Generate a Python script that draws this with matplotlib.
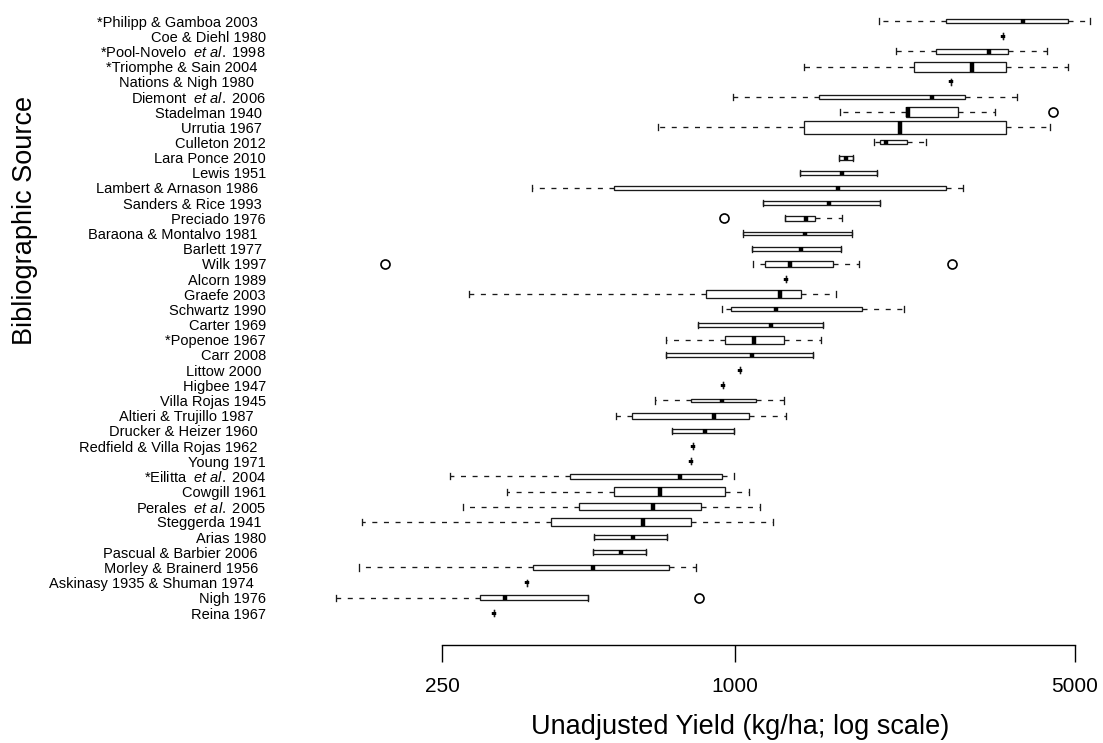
import numpy as np
import matplotlib
matplotlib.use("Agg")
import matplotlib.pyplot as plt

plt.rcParams['font.family'] = ['Liberation Sans', 'DejaVu Sans']
plt.rcParams['mathtext.fontset'] = 'custom'
plt.rcParams['mathtext.rm'] = 'Liberation Sans'
plt.rcParams['mathtext.it'] = 'Liberation Sans:italic'

# top to bottom
sources = [
    "*Philipp & Gamboa 2003  ", "Coe & Diehl 1980", r"*Pool-Novelo  $\mathit{et\ al.}$ 1998",
    "*Triomphe & Sain 2004  ", "Nations & Nigh 1980   ", r"Diemont  $\mathit{et\ al.}$ 2006",
    "Stadelman 1940 ", "Urrutia 1967 ", "Culleton 2012", "Lara Ponce 2010", "Lewis 1951",
    "Lambert & Arnason 1986  ", "Sanders & Rice 1993 ", "Preciado 1976",
    "Baraona & Montalvo 1981  ", "Barlett 1977 ", "Wilk 1997", "Alcorn 1989", "Graefe 2003",
    "Schwartz 1990", "Carter 1969", "*Popenoe 1967", "Carr 2008", "Littow 2000 ",
    "Higbee 1947", "Villa Rojas 1945", "Altieri & Trujillo 1987   ", "Drucker & Heizer 1960  ",
    "Redfield & Villa Rojas 1962  ", "Young 1971", r"*Eilitta  $\mathit{et\ al.}$ 2004",
    "Cowgill 1961", r"Perales  $\mathit{et\ al.}$ 2005", "Steggerda 1941 ", "Arias 1980",
    "Pascual & Barbier 2006  ", "Morley & Brainerd 1956  ", "Askinasy 1935 & Shuman 1974   ",
    "Nigh 1976", "Reina 1967",
]
whislo = [1980, 3555, 2145, 1385, 2775, 990, 1645, 695, 1935, 1635, 1360, 383, 1140, 1265,
          1040, 1085, 1090, 1270, 284, 940, 840, 720, 723, 1025, 945, 686, 569, 743, 820,
          811, 260, 340, 276, 171, 512, 511, 169, 374, 151, 320]
q1 = [2715, 3555, 2595, 2330, 2775, 1485, 2250, 1385, 1990, 1635, 1360, 565, 1140, 1265,
      1040, 1085, 1150, 1270, 870, 980, 840, 955, 723, 1025, 945, 813, 614, 743, 820,
      811, 457, 563, 479, 418, 512, 511, 384, 374, 299, 320]
med = [3910, 3555, 3330, 3065, 2775, 2540, 2265, 2185, 2045, 1690, 1660, 1630, 1560, 1400,
       1390, 1365, 1295, 1270, 1240, 1215, 1185, 1095, 1085, 1025, 945, 940, 906, 868, 820,
       811, 770, 702, 679, 648, 618, 584, 511, 374, 337, 320]
q3 = [4840, 3555, 3640, 3605, 2775, 2970, 2880, 3605, 2260, 1750, 1960, 2720, 1990, 1460,
      1740, 1650, 1590, 1270, 1365, 1820, 1520, 1260, 1445, 1025, 945, 1103, 1067, 997, 820,
      811, 940, 955, 851, 811, 724, 656, 733, 374, 499, 320]
whishi = [5370, 3555, 4380, 4840, 2775, 3800, 3420, 4440, 2475, 1750, 1960, 2945, 1990, 1660,
          1740, 1650, 1795, 1270, 1610, 2230, 1520, 1505, 1445, 1025, 945, 1260, 1276, 997, 820,
          811, 994, 1070, 1126, 1195, 724, 656, 830, 374, 499, 320]
outliers = {"Stadelman 1940 ": [4500], "Preciado 1976": [948],
            "Wilk 1997": [191, 2790], "Nigh 1976": [842]}
# relative box widths (varwidth)
rel_width = [1.3, 1.0, 1.6, 3.3, 1.0, 1.5, 3.1, 4.3, 1.3, 1.3, 1.2, 1.3, 1.3, 1.6,
             1.3, 1.3, 2.1, 1.0, 2.6, 1.3, 1.3, 2.6, 1.3, 1.0, 1.0, 1.3, 2.0, 1.2, 1.0,
             1.0, 1.6, 2.9, 2.3, 2.8, 1.2, 1.2, 1.6, 1.0, 1.6, 1.0]

W, H = 1103, 743
fig = plt.figure(figsize=(W / 100, H / 100), dpi=100)

# pixel layout of the reference
row0, row_step = 21, 15.18
ax_left, ax_right, ax_top, ax_bottom = 300, 1103, 5, 645
ax = fig.add_axes([ax_left / W, 1 - ax_bottom / H, (ax_right - ax_left) / W, (ax_bottom - ax_top) / H])

def px_to_val(px):
    return 1000 * 10 ** ((px - 735) / 486.5)

stats = []
for i, s in enumerate(sources):
    stats.append(dict(label=s, whislo=whislo[i], q1=q1[i], med=med[i], q3=q3[i],
                      whishi=whishi[i], fliers=outliers.get(s, [])))

pos = np.arange(len(sources))
ax.bxp(stats, positions=pos, widths=[w * 0.2 for w in rel_width], orientation='horizontal',
       patch_artist=True, capwidths=0.4,
       boxprops=dict(facecolor='white', edgecolor='#1a1a1a', linewidth=0.95),
       medianprops=dict(color='black', linewidth=3.2, solid_capstyle='butt'),
       whiskerprops=dict(color='#1a1a1a', linewidth=0.95, linestyle=(0, (3.8, 5.0))),
       capprops=dict(color='#1a1a1a', linewidth=0.95),
       flierprops=dict(marker='o', markerfacecolor='none', markeredgecolor='black',
                       markersize=6.5, markeredgewidth=1.2))

ax.set_xscale('log')
ax.set_xlim(px_to_val(ax_left), px_to_val(ax_right))
ax.set_ylim((ax_bottom - row0) / row_step, (ax_top - row0) / row_step)

ax.set_yticks(pos)
ax.set_yticklabels(sources, fontsize=10.5)
ax.tick_params(axis='y', length=0, pad=(ax_left - 266) * 0.72)

ax.set_xticks([250, 1000, 5000])
ax.set_xticklabels(['250', '1000', '5000'], fontsize=15)
ax.minorticks_off()
ax.tick_params(axis='x', which='minor', length=0)
ax.tick_params(axis='x', direction='out', length=12, width=1.0, pad=11)

for side in ['top', 'right', 'left']:
    ax.spines[side].set_visible(False)
ax.spines['bottom'].set_bounds(250, 5000)
ax.spines['bottom'].set_linewidth(1.0)

fig.text(740 / W, 1 - 727 / H, "Unadjusted Yield (kg/ha; log scale)", fontsize=19.5,
         ha='center', va='center')
fig.text(25 / W, 1 - 220 / H, "Bibliographic Source", fontsize=19.5, rotation=90,
         ha='center', va='center')

fig.savefig("out.png", dpi=100)
